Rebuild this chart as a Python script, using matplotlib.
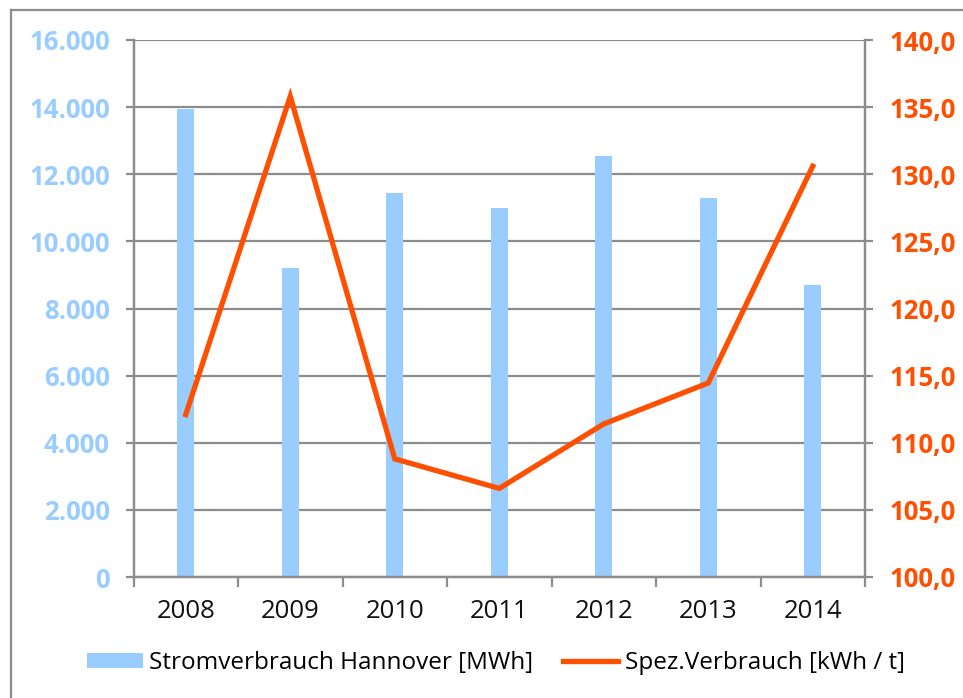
import matplotlib
matplotlib.use("Agg")
from matplotlib import pyplot as plt
from matplotlib.lines import Line2D

# Data
years = ["2008", "2009", "2010", "2011", "2012", "2013", "2014"]
strom_mwh = [13950, 9200, 11440, 11000, 12550, 11300, 8700]
spez_kwh_t = [112.1, 135.8, 108.8, 106.6, 111.4, 114.45, 130.6]
left_ticks = [0, 2000, 4000, 6000, 8000, 10000, 12000, 14000, 16000]
right_ticks = [100, 105, 110, 115, 120, 125, 130, 135, 140]

BLUE = "#99CCFF"
ORANGE = "#FF4F00"
GRID = "#8C8C8C"

plt.rcParams['font.family'] = ['Open Sans', 'DejaVu Sans']

fig = plt.figure(figsize=(9.63, 6.98), dpi=100)
ax = fig.add_axes([133.5 / 963, 1 - 577 / 698, (865 - 133.5) / 963, (577 - 40) / 698])

x = list(range(len(years)))
ax.bar(x, strom_mwh, width=0.165, color=BLUE, zorder=2, label="Stromverbrauch Hannover [MWh]")
ax.set_xlim(-0.5, len(years) - 0.5)
ax.set_ylim(0, 16000)
ax.set_yticks(left_ticks)
ax.set_yticklabels(["0" if v == 0 else f"{v // 1000}.000" for v in left_ticks])
ax.yaxis.grid(True, color=GRID, linewidth=1.6, zorder=0)
ax.set_axisbelow(True)

# x ticks: labels at centres, tick marks at category boundaries
ax.set_xticks(x)
ax.set_xticklabels(years)
ax.set_xticks([i - 0.5 for i in range(len(years) + 1)], minor=True)
ax.tick_params(axis='x', which='major', length=0, pad=16, labelsize=18.5, labelcolor="#111111")
ax.tick_params(axis='x', which='minor', length=7, width=1.6, color=GRID)
ax.tick_params(axis='y', length=6, width=1.6, color=GRID, pad=11, labelsize=18.5, labelcolor=BLUE)
for lbl in ax.get_yticklabels():
    lbl.set_fontweight('bold')

for side in ['left', 'right', 'bottom']:
    ax.spines[side].set_color(GRID)
    ax.spines[side].set_linewidth(1.6)
ax.spines['top'].set_visible(False)

ax2 = ax.twinx()
ax2.plot(x, spez_kwh_t, color=ORANGE, linewidth=3.8, solid_joinstyle='miter',
         label="Spez.Verbrauch [kWh / t]", zorder=3)
ax2.set_ylim(100, 140)
ax2.set_yticks(right_ticks)
ax2.set_yticklabels([f"{v},0" for v in right_ticks])
ax2.tick_params(axis='y', length=6, width=1.6, color=GRID, pad=12, labelsize=18.5, labelcolor=ORANGE)
for lbl in ax2.get_yticklabels():
    lbl.set_fontweight('bold')
for side in ['left', 'right', 'bottom']:
    ax2.spines[side].set_color(GRID)
    ax2.spines[side].set_linewidth(1.6)
ax2.spines['top'].set_visible(False)

h1, l1 = ax.get_legend_handles_labels()
h2, l2 = ax2.get_legend_handles_labels()
fig.legend(h1 + h2, l1 + l2, loc='center', bbox_to_anchor=(0.515, 0.05), ncol=2,
           frameon=False, fontsize=17.5, handlelength=2.3, handleheight=0.6,
           handletextpad=0.25, columnspacing=1.2)

# outer chart frame (only left and top edges visible)
fig.add_artist(Line2D([11 / 963, 11 / 963], [0, 1 - 10 / 698], transform=fig.transFigure,
                      color=GRID, linewidth=1.6))
fig.add_artist(Line2D([11 / 963, 1], [1 - 10 / 698, 1 - 10 / 698], transform=fig.transFigure,
                      color=GRID, linewidth=1.6))

fig.savefig("out.png", dpi=100)
